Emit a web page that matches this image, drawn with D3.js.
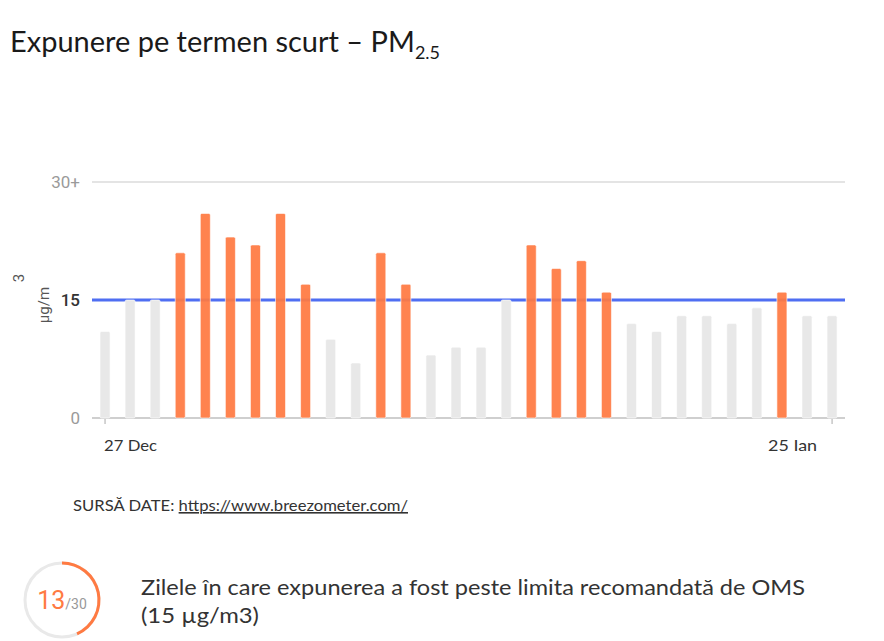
<!DOCTYPE html>
<html><head><meta charset="utf-8">
<script src="https://cdn.jsdelivr.net/npm/d3@7"></script>
<style>
html,body{margin:0;padding:0;background:#fff;}
svg{display:block;}
</style></head>
<body>
<svg id="c" width="884" height="641"></svg>
<script>
// ---- data ----
const days = ["27 Dec","28 Dec","29 Dec","30 Dec","31 Dec","1 Ian","2 Ian","3 Ian","4 Ian","5 Ian",
  "6 Ian","7 Ian","8 Ian","9 Ian","10 Ian","11 Ian","12 Ian","13 Ian","14 Ian","15 Ian",
  "16 Ian","17 Ian","18 Ian","19 Ian","20 Ian","21 Ian","22 Ian","23 Ian","24 Ian","25 Ian"];
const pm25 = [11,15,15,21,26,23,22,26,17,10,7,21,17,8,9,9,15,22,19,20,16,12,11,13,13,12,14,16,13,13];
const yTicks = [0,15,30];
const yTickLabels = ["0","15","30+"];
const xTickLabels = ["27 Dec","25 Ian"];
const limit = 15;
const daysOver = pm25.filter(v => v > limit).length;

const svg = d3.select("#c");
const font = "Lato, 'Open Sans', sans-serif";

// title
const title = svg.append("text").attr("x",10).attr("y",52)
  .attr("font-family","Lato, 'Open Sans', sans-serif").attr("font-weight",400)
  .attr("font-size",29).attr("fill","#1a1a1a").attr("textLength",430).attr("lengthAdjust","spacingAndGlyphs");
title.append("tspan").text("Expunere pe termen scurt \u2013 PM");
title.append("tspan").attr("font-size",18).attr("dy",7).text("2.5");

// scales
const x = d3.scaleBand().domain(d3.range(pm25.length)).range([92.5,844.6]).paddingInner(0.6).paddingOuter(0.3);
const y = d3.scaleLinear().domain([0,30]).range([418,182]);
const cx = i => x(i) + x.bandwidth()/2;

const g = svg.append("g");
// gridline at top
g.append("line").attr("x1",92).attr("x2",845).attr("y1",y(30)).attr("y2",y(30))
  .attr("stroke","#e4e4e4").attr("stroke-width",2);
// baseline
g.append("line").attr("x1",92).attr("x2",845).attr("y1",y(0)).attr("y2",y(0))
  .attr("stroke","#cfcfcf").attr("stroke-width",2);
// ticks for the labelled dates
[0, pm25.length-1].forEach(i => {
  g.append("line").attr("x1",cx(i)).attr("x2",cx(i)).attr("y1",y(0)+1).attr("y2",y(0)+6)
    .attr("stroke","#aaa").attr("stroke-width",1);
});
// limit line
g.append("line").attr("x1",92).attr("x2",845).attr("y1",y(limit)).attr("y2",y(limit))
  .attr("stroke","#4f6ef2").attr("stroke-width",3);

// bars
g.selectAll("rect.bar").data(pm25).join("rect").attr("class","bar")
  .attr("x",(d,i)=>x(i)).attr("width",x.bandwidth())
  .attr("y",d=>y(d)).attr("height",d=>y(0)-y(d))
  .attr("rx",1.5)
  .attr("fill",d=> d>limit ? "#ff7a42" : "#e8e8e8")
  .attr("fill-opacity",d=> d>limit ? 0.93 : 1)
  .attr("stroke","#fff").attr("stroke-width",0.6);

// y tick labels
g.selectAll("text.yt").data(yTicks).join("text").attr("class","yt")
  .attr("x",80).attr("y",d=>y(d)).attr("dy","0.36em").attr("text-anchor","end")
  .attr("font-family","Roboto, sans-serif").attr("font-size",17)
  .attr("font-weight",d=> d===limit ? 500 : 400)
  .attr("fill",d=> d===limit ? "#333" : "#9a9a9a")
  .text((d,i)=>yTickLabels[i]);

// y axis title
svg.append("text").attr("transform","translate(49,305) rotate(-90)")
  .attr("text-anchor","middle").attr("font-family","Roboto, sans-serif").attr("font-size",15)
  .attr("fill","#555").text("\u00b5g/m");
svg.append("text").attr("transform","translate(24,278) rotate(-90)")
  .attr("text-anchor","middle").attr("font-family","Roboto, sans-serif").attr("font-size",15)
  .attr("fill","#555").text("3");

// x labels
svg.append("text").attr("x",cx(0)-1).attr("y",451).attr("font-family",font).attr("font-size",16)
  .attr("fill","#333").attr("textLength",53).attr("lengthAdjust","spacingAndGlyphs").text(xTickLabels[0]);
svg.append("text").attr("x",cx(pm25.length-1)+(817-832)).attr("y",451).attr("text-anchor","end")
  .attr("font-family",font).attr("font-size",16).attr("fill","#333")
  .attr("textLength",49).attr("lengthAdjust","spacingAndGlyphs").text(xTickLabels[1]);

// source
const src = svg.append("text").attr("x",73).attr("y",511).attr("font-family",font).attr("font-size",16)
  .attr("fill","#333").attr("textLength",335).attr("lengthAdjust","spacingAndGlyphs");
src.append("tspan").text("SURS\u0102 DATE: ");
src.append("tspan").attr("text-decoration","underline").text("https://www.breezometer.com/");

// circle gauge
const gc = svg.append("g").attr("transform","translate(62,600)");
const r = 37;
gc.append("circle").attr("r",r).attr("fill","none").attr("stroke","#e9e9e9").attr("stroke-width",3);
const arc = d3.arc().innerRadius(r-1.5).outerRadius(r+1.5).startAngle(0).endAngle(2*Math.PI*daysOver/pm25.length);
gc.append("path").attr("d",arc()).attr("fill","#ff7a42");
const gt = gc.append("text").attr("text-anchor","middle").attr("y",9).attr("font-family","Roboto, sans-serif");
gt.append("tspan").attr("font-size",25).attr("fill","#ff7a42").text(daysOver);
gt.append("tspan").attr("font-size",14).attr("fill","#999").text("/" + pm25.length);

// description
svg.append("text").attr("x",141).attr("y",595).attr("font-family",font).attr("font-size",21).attr("fill","#333")
  .attr("textLength",664).attr("lengthAdjust","spacingAndGlyphs")
  .text("Zilele \u00een care expunerea a fost peste limita recomandat\u0103 de OMS");
svg.append("text").attr("x",141).attr("y",623).attr("font-family",font).attr("font-size",21).attr("fill","#333")
  .attr("textLength",118).attr("lengthAdjust","spacingAndGlyphs")
  .text("(15 \u00b5g/m3)");
</script>
</body></html>
